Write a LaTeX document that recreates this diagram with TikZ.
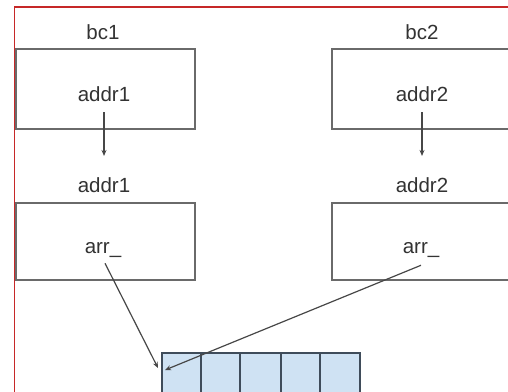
\documentclass[tikz,border=0pt]{standalone}
\usepackage{fontspec}
\setmainfont{Liberation Sans}
\usetikzlibrary{arrows.meta,calc}

\definecolor{framered}{HTML}{C62828}
\definecolor{boxgray}{HTML}{6A6A6A}
\definecolor{inkgray}{HTML}{333333}
\definecolor{cellblue}{HTML}{CFE2F3}
\definecolor{celledge}{HTML}{3F4C5A}

\tikzset{
  every node/.style={text=inkgray, font=\fontsize{20.5}{24}\selectfont},
  lbl/.style={anchor=base, inner sep=0pt},
  objbox/.style={draw=boxgray, line width=1.5pt, fill=white},
  cell/.style={draw=celledge, fill=cellblue, line width=1.5pt},
  ptr/.style={draw=inkgray!90, line width=1.2pt,
    -{Stealth[length=6pt,width=5pt]}},
}

\begin{document}
\begin{tikzpicture}[x=1pt,y=-1pt]
  \useasboundingbox (0,0) rectangle (508,391);
  \clip (0,0) rectangle (508,391);
  \fill[white] (0,0) rectangle (508,391);

  % outer frame
  \draw[framered, line width=1.5pt] (14.5,420) -- (14.5,7) -- (530,7);

  % object boxes
  \draw[objbox] (16,49) rectangle (195,129);
  \draw[objbox] (332,49) rectangle (511,129);
  \draw[objbox] (16,203) rectangle (195,280);
  \draw[objbox] (332,203) rectangle (511,280);

  % labels
  \node[lbl] (bc1) at (103,39) {bc1};
  \node[lbl] (bc2) at (422,39) {bc2};
  \node[lbl] (a1) at (104,101) {addr1};
  \node[lbl] (a2) at (422,101) {addr2};
  \node[lbl] (m1) at (104,192) {addr1};
  \node[lbl] (m2) at (422,192) {addr2};
  \node[lbl] (ar1) at (103,253) {arr\_};
  \node[lbl] (ar2) at (421,253) {arr\_};

  % array cells
  \foreach \i/\xa/\xb in {1/162/201,2/201/240,3/240/281,4/281/320,5/320/360}
    \draw[cell] (\xa,353) rectangle (\xb,400);
  \coordinate (p1) at (158,368);
  \coordinate (p2) at (165,370);

  % pointers
  \draw[ptr, shorten <=11pt, shorten >=21pt] (a1.south) -- (m1.north);
  \draw[ptr, shorten <=11pt, shorten >=21pt] (a2.south) -- (m2.north);
  \draw[ptr] ($(ar1.south)+(2,6)$) -- (p1);
  \draw[ptr] ($(ar2.south)+(0,8)$) -- (p2);
\end{tikzpicture}
\end{document}
